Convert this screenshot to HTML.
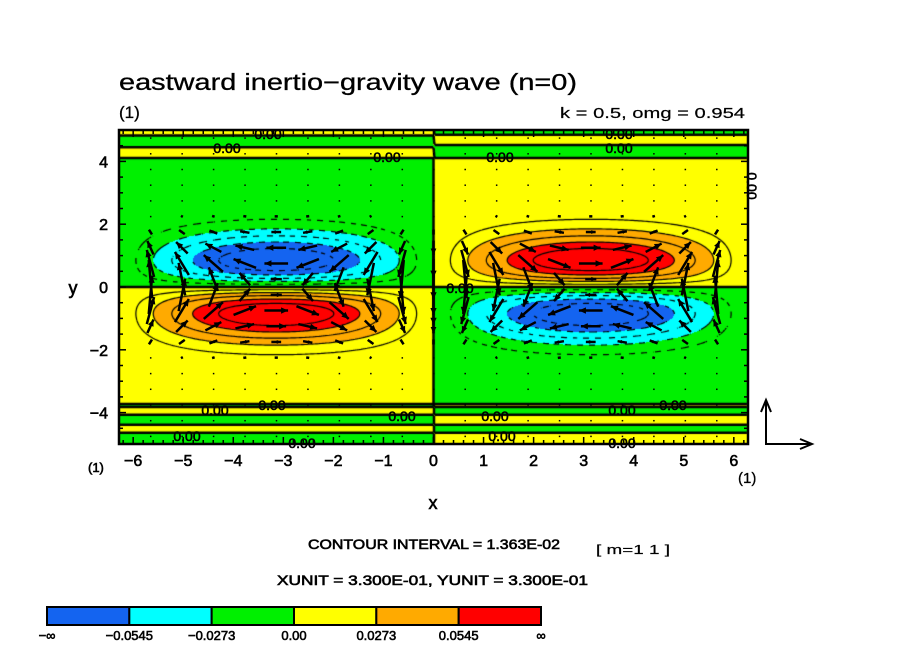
<!DOCTYPE html>
<html><head><meta charset="utf-8"><style>
body{margin:0;background:#fff;width:904px;height:654px;overflow:hidden;position:relative;font-family:"Liberation Sans",sans-serif}
canvas{position:absolute;left:119px;top:130px}
svg{position:absolute;left:0;top:0}
</style></head><body>
<canvas id="cv" width="629" height="314"></canvas>
<svg id="sv" width="904" height="654"></svg>
<script>
const waveK = [0.5];
const omega = [0.954];
const fieldAmp = [0.0813];
const yWidth = [0.85];
const fillLevels = [-0.0545, -0.0273, 0, 0.0273, 0.0545];
const fillColors = ["#1464f0", "#00ffff", "#00f000", "#ffff00", "#ffaa00", "#ff0000"];
const colorbarLabels = ["\u2212\u221e", "\u22120.0545", "\u22120.0273", "0.00", "0.0273", "0.0545", "\u221e"];
const contourInterval = [0.01363];
const xTicks = [-6, -5, -4, -3, -2, -1, 0, 1, 2, 3, 4, 5, 6];
const yTicks = [4, 2, 0, -2, -4];
const topFlipsLeft = [4.12, 4.43, 4.81];
const topFlipsRight = [4.15, 4.53, 4.87];
const bottomFlips = [-3.73, -3.83, -4.05, -4.37, -4.62];

const X0 = 119, X1 = 748, Y0 = 130, Y1 = 444;
const xmin = -2 * Math.PI, xmax = 2 * Math.PI, ymin = -5, ymax = 5;
const sx = v => X0 + (v - xmin) / (xmax - xmin) * (X1 - X0);
const sy = v => Y1 - (v - ymin) / (ymax - ymin) * (Y1 - Y0);

function field(x, y) {
  const t = y / yWidth[0];
  let f = fieldAmp[0] * Math.sin(waveK[0] * x) * t * Math.exp((1 - t * t) / 2);
  const flips = y > 0 ? (x < 0 ? topFlipsLeft : topFlipsRight) : bottomFlips;
  let n = 0;
  for (const b of flips) { if (y > 0 ? y > b : y < b) n++; }
  if (n > 0) {
    const base = Math.sign(f) || 1;
    let d = 1e9;
    for (const b of flips) d = Math.min(d, Math.abs(y - b));
    f = base * (n % 2 ? -1 : 1) * Math.min(0.003, d * 0.01 + 0.0005);
  }
  return f;
}
const cv = document.getElementById('cv');
const ctx = cv.getContext('2d');
const W = 629, H = 314;
const img = ctx.createImageData(W, H);
const rgb = fillColors.map(c => [parseInt(c.substr(1, 2), 16), parseInt(c.substr(3, 2), 16), parseInt(c.substr(5, 2), 16)]);
for (let py = 0; py < H; py++) for (let px = 0; px < W; px++) {
  const x = xmin + (px + 0.5) / W * (xmax - xmin), y = ymax - (py + 0.5) / H * (ymax - ymin);
  const v = field(x, y);
  let i = 0; while (i < fillLevels.length && v > fillLevels[i]) i++;
  const o = (py * W + px) * 4;
  img.data[o] = rgb[i][0]; img.data[o + 1] = rgb[i][1]; img.data[o + 2] = rgb[i][2]; img.data[o + 3] = 255;
}
ctx.putImageData(img, 0, 0);
const step = 2;
const gx = Math.floor(W / step) + 1, gy = Math.floor(H / step) + 1;
const grid = [];
for (let j = 0; j < gy; j++) { grid.push([]); for (let i = 0; i < gx; i++) {
  grid[j].push(field(xmin + i * step / W * (xmax - xmin), ymax - j * step / H * (ymax - ymin)));
}}
ctx.strokeStyle = '#000';
for (let n = -6; n <= 6; n++) {
  const L = n * contourInterval[0];
  ctx.lineWidth = (n === 0) ? 2.5 : 1.2;
  ctx.beginPath();
  for (let j = 0; j < gy - 1; j++) for (let i = 0; i < gx - 1; i++) {
    const a = grid[j][i], b = grid[j][i + 1], c = grid[j + 1][i + 1], d = grid[j + 1][i];
    const pts = [];
    const ed = (v1, v2, x1, y1, x2, y2) => { if ((v1 > L) !== (v2 > L)) { const t = (L - v1) / (v2 - v1); pts.push([x1 + t * (x2 - x1), y1 + t * (y2 - y1)]); } };
    const X = i * step, Y = j * step;
    ed(a, b, X, Y, X + step, Y); ed(b, c, X + step, Y, X + step, Y + step);
    ed(c, d, X + step, Y + step, X, Y + step); ed(d, a, X, Y + step, X, Y);
    if (n < 0 && (Math.floor((X + Y) / 6) % 2)) continue;
    for (let k = 0; k + 1 < pts.length; k += 2) { ctx.moveTo(pts[k][0], pts[k][1]); ctx.lineTo(pts[k + 1][0], pts[k + 1][1]); }
  }
  ctx.stroke();
}

const NS = 'http://www.w3.org/2000/svg';
const sv = document.getElementById('sv');
function el(tag, at, parent) { const e = document.createElementNS(NS, tag); for (const k in at) e.setAttribute(k, at[k]); (parent || sv).appendChild(e); return e; }
function txt(x, y, s, size, anchor, name, extra) {
  const t = el('text', Object.assign({ x: x, y: y, 'font-size': size, 'text-anchor': anchor || 'start', 'font-family': 'Liberation Sans, sans-serif', stroke: '#000', 'stroke-width': 0.6 }, extra || {}));
  t.textContent = s;
  
  
  return t;
}
const ag = el('g', { stroke: '#000', fill: '#000' });


for (let i = 1; i < 20; i++) for (let j = 0; j < 20; j++) {
  const x = xmin + i * Math.PI / 5, y = 4.75 - j * 0.5;
  const u = field(x, y) / fieldAmp[0] * 24;
  const v = -Math.cos(waveK[0] * x) * Math.exp(-y * y / (2 * yWidth[0] * yWidth[0])) * 42;
  const cx = sx(x), cy = sy(y);
  const len = Math.hypot(u, v);
  if (len < 2) { el('rect', { x: cx - 0.5, y: cy - 0.5, width: 1.5, height: 1.5, stroke: 'none' }, ag); continue; }
  const dx = u, dy = -v;
  const x2 = cx + dx / 2, y2 = cy + dy / 2;
  el('line', { x1: cx - dx / 2, y1: cy - dy / 2, x2: x2, y2: y2, 'stroke-width': 2.5 }, ag);
  const ux = dx / len, uy = dy / len, h = Math.min(7, len * 0.45);
  el('polygon', { points: `${x2},${y2} ${x2 - ux * h - uy * h * 0.45},${y2 - uy * h + ux * h * 0.45} ${x2 - ux * h + uy * h * 0.45},${y2 - uy * h - ux * h * 0.45}`, stroke: 'none' }, ag);
}
const fr = el('rect', { x: X0, y: Y0, width: X1 - X0, height: Y1 - Y0, fill: 'none', stroke: '#000', 'stroke-width': 2.5 });
 
const tg = el('g', { stroke: '#000', 'stroke-width': 1.5 });
 
for (let v = -31; v <= 31; v++) {
  const x = sx(v / 5), big = v % 5 === 0, L = big ? 7 : 4;
  el('line', { x1: x, y1: Y1, x2: x, y2: Y1 - L }, tg); el('line', { x1: x, y1: Y0, x2: x, y2: Y0 + L }, tg);
}
for (let v = -10; v <= 10; v++) {
  const y = sy(v / 2), big = v % 4 === 0, L = big ? 7 : 4;
  el('line', { x1: X0, y1: y, x2: X0 + L, y2: y }, tg); el('line', { x1: X1, y1: y, x2: X1 - L, y2: y }, tg);
}
xTicks.forEach(v => txt(sx(v), 466, (v < 0 ? '\u2212' : '') + Math.abs(v), 16, 'middle', 'x-tick-label'));
yTicks.forEach(v => txt(108, sy(v) + 6, (v < 0 ? '\u2212' : '') + Math.abs(v), 16, 'end', 'y-tick-label'));
[[268, 139], [227, 153], [387, 162], [619, 139], [619, 153], [500, 162], [215, 415], [272, 410], [402, 421], [187, 441], [302, 448], [622, 415], [673, 410], [495, 421], [502, 441], [622, 448], [460, 293]].forEach(p => {
  txt(p[0], p[1], '0.00', 14, 'middle', 'contour-label');
});
txt(748, 195, '0.00', 14, 'middle', 'contour-label', { transform: 'rotate(90 752 190)' });
txt(119, 90, 'eastward inertio\u2212gravity wave (n=0)', 23, 'start', 'chart-title', { textLength: 458, lengthAdjust: 'spacingAndGlyphs', 'stroke-width': 0.3 });
txt(119, 118, '(1)', 17, 'start', 'panel-label', { 'stroke-width': 0.3 });
txt(745, 118, 'k = 0.5, omg = 0.954', 15, 'end', 'parameter-label', { textLength: 185, lengthAdjust: 'spacingAndGlyphs', 'stroke-width': 0.2 });
txt(73, 294, 'y', 18, 'middle', 'y-axis-title');
txt(433, 509, 'x', 18, 'middle', 'x-axis-title');
txt(88, 472, '(1)', 13, 'start', 'x-panel-label');
txt(738, 483, '(1)', 15, 'start', 'corner-panel-label', { 'stroke-width': 0.3 });
txt(308, 549, 'CONTOUR INTERVAL = 1.363E-02', 14, 'start', 'contour-interval-label', { textLength: 252, lengthAdjust: 'spacingAndGlyphs' });
txt(596, 554, '[ m=1 1 ]', 13, 'start', 'mode-label', { textLength: 74, lengthAdjust: 'spacingAndGlyphs', 'stroke-width': 0.2 });
txt(277, 585, 'XUNIT = 3.300E-01, YUNIT = 3.300E-01', 14, 'start', 'unit-label', { textLength: 311, lengthAdjust: 'spacingAndGlyphs' });
const rv = el('g', { stroke: '#000', 'stroke-width': 2, fill: 'none' });
 
el('polyline', { points: '766,400 766,444 812,444' }, rv);
el('polyline', { points: '761,412 766,400 771,412' }, rv);
el('polyline', { points: '800,439 812,444 800,449' }, rv);
const cbX = 47, cbW = 494, cbY = 607, cbH = 18, seg = cbW / 6;
fillColors.forEach((c, i) => {
  const r = el('rect', { x: cbX + i * seg, y: cbY, width: seg, height: cbH, fill: c, stroke: '#000', 'stroke-width': 2 });
   
});
colorbarLabels.forEach((s, i) => txt(cbX + i * seg, 640, s, 13, 'middle', 'colorbar-label'));
</script>
</body></html>
